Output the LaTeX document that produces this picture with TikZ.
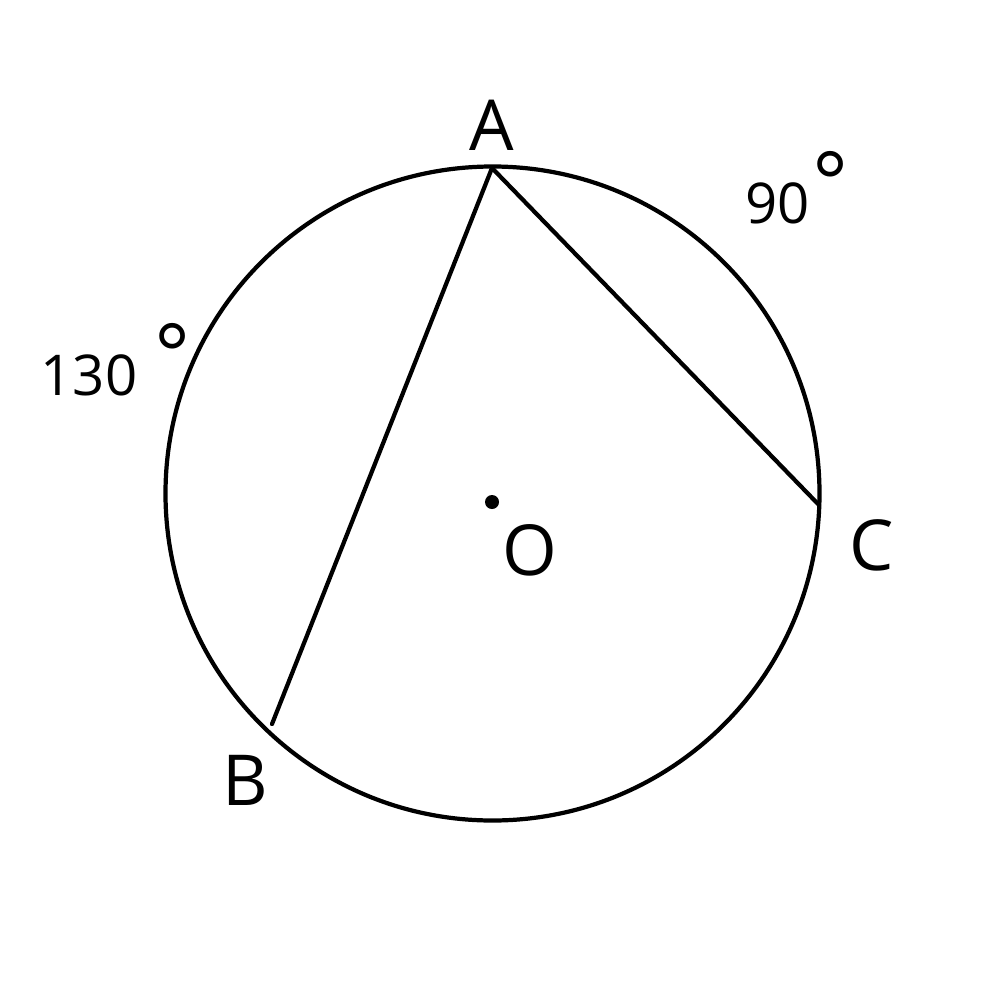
\documentclass[tikz,border=0pt]{standalone}
\usepackage{fontspec}
\setmainfont{Open Sans}
\newcommand{\degsym}{{\fontsize{24}{24}\selectfont\raisebox{0.12em}{°}}}
\begin{document}
\begin{tikzpicture}[x=0.01cm,y=-0.01cm,
  stroke/.style={line width=1.2pt, line cap=round, line join=round},
  lbl/.style={font=\fontsize{20}{22}\selectfont, inner sep=0pt},
  num/.style={font=\fontsize{16}{18}\selectfont, inner sep=0pt}]
\useasboundingbox (0,0) rectangle (1000,1000);
\coordinate (O) at (492.5,493.5);
\draw[stroke] (O) circle (327);
\coordinate (A) at (492,168);
\coordinate (B) at (272,724);
\coordinate (C) at (819,505);
\draw[stroke] (B) -- (A) -- (C);
\fill (492,502) circle (7);
\node[lbl] (lA) at (492,125) {A};
\node[lbl] (lB) at (245,780) {B};
\node[lbl] (lC) at (872,545) {C};
\node[lbl] (lO) at (530,550) {O};
\node[num, anchor=base west] (l130) at (40,395) {130\hspace{0.3em}\degsym};
\node[num, anchor=base west] (l90) at (745,223) {90\hspace{0.05em}\degsym};
\end{tikzpicture}
\end{document}
